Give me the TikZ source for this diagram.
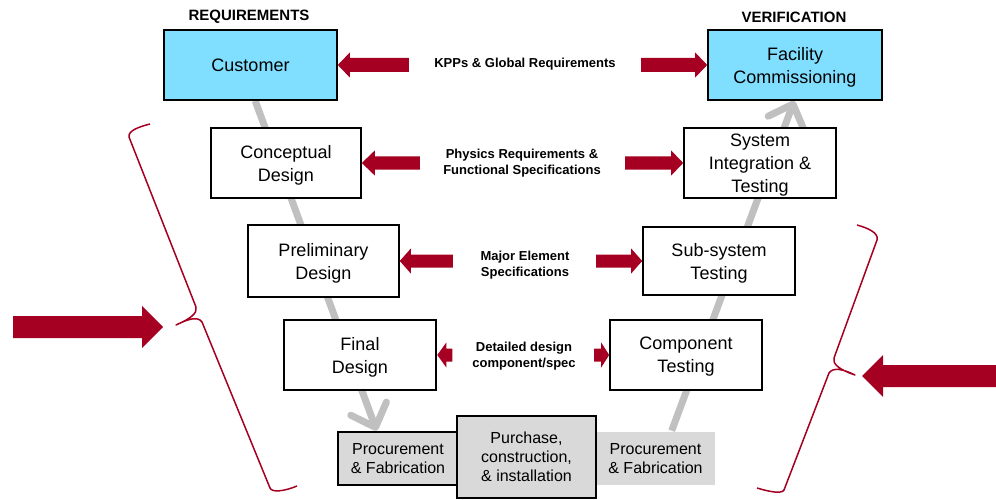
\documentclass[tikz,border=0pt]{standalone}
\usepackage{fontspec}
\setmainfont{Liberation Sans}
\usetikzlibrary{arrows.meta,calc,backgrounds}

\definecolor{skyfill}{RGB}{128,222,255}
\definecolor{arrowred}{RGB}{165,0,33}
\definecolor{vgray}{RGB}{192,192,192}
\definecolor{boxgray}{RGB}{217,217,217}

% horizontal block arrow: #1 tail, #2 tip, #3 shaft half-height, #4 head half-height, #5 head length
\newcommand\harrow[5]{%
  \fill[arrowred] let \p1=(#1), \p2=(#2), \p3=($(#2)!#5!(#1)$) in
    (\x1,\y1+#3) -- (\x3,\y1+#3) -- (\x3,\y1+#4) -- (\x2,\y2)
    -- (\x3,\y1-#4) -- (\x3,\y1-#3) -- (\x1,\y1-#3) -- cycle;}

\tikzset{
  stagebox/.style={draw=black, line width=1.6pt, fill=white, align=center,
    inner sep=0pt, text depth=0pt, font=\fontsize{18}{23}\selectfont},
  topbox/.style={stagebox, fill=skyfill},
  heavybox/.style={stagebox, line width=2.6pt},
  buildbox/.style={draw=black, line width=2.6pt, fill=boxgray, align=center,
    inner sep=0pt, text depth=0pt, font=\fontsize{16}{19}\selectfont},
  plainbuild/.style={buildbox, draw=none},
  flowlabel/.style={align=center, inner sep=0pt, text depth=0pt,
    font=\bfseries\fontsize{13}{16}\selectfont},
  heading/.style={inner sep=0pt, font=\bfseries\fontsize{15}{18}\selectfont},
  vline/.style={draw=vgray, line width=7pt,
    -{Straight Barb[length=20pt,width=38pt,round]}},
  bracket/.style={draw=arrowred, line width=1.5pt, line join=round}
}

\begin{document}
\begin{tikzpicture}[x=1pt,y=-1pt]
\useasboundingbox (0,0) rectangle (996,500);

% headings
\node[heading] (headreq) at (249,17) {REQUIREMENTS};
\node[heading] (headver) at (794,17) {VERIFICATION};

% left leg of the V
\node[topbox, minimum width=173pt, minimum height=70pt] (customer) at (250.5,65) {Customer};
\node[stagebox, minimum width=150pt, minimum height=70pt] (concept) at (286,163) {Conceptual\\Design};
\node[stagebox, minimum width=151pt, minimum height=72pt] (prelim) at (323.5,261) {Preliminary\\Design};
\node[heavybox, minimum width=152pt, minimum height=70pt] (final) at (360,355) {Final\\Design};

% right leg of the V
\node[topbox, minimum width=174pt, minimum height=70pt] (facility) at (795,65) {Facility\\Commissioning};
\node[stagebox, minimum width=152pt, minimum height=70pt] (sysint) at (760,163) {System\\Integration \&\\Testing};
\node[stagebox, minimum width=152pt, minimum height=68pt] (subsys) at (719,261) {Sub-system\\Testing};
\node[stagebox, minimum width=152pt, minimum height=70pt] (component) at (686,355) {Component\\Testing};

% build stages at the bottom
\node[buildbox, minimum width=120pt, minimum height=53pt] (procL) at (398,458.5) {Procurement\\\& Fabrication};
\node[plainbuild, minimum width=119pt, minimum height=53pt] (procR) at (655.5,458.5) {Procurement\\\& Fabrication};
\node[buildbox, minimum width=139pt, minimum height=82pt] (purchase) at (526.5,457) {Purchase,\\construction,\\\& installation};

% gray V path behind the boxes
\begin{scope}[on background layer]
  \draw[vline] ($(customer.south west)+(92,0)$) -- ($(procL.north west)+(40,0)$);
  \draw[vline] ($(procR.north west)+(77,0)$) -- ($(facility.south west)+(87,0)$);
\end{scope}

% flow labels
\node[flowlabel] (lblkpp) at (525,63) {KPPs \& Global Requirements};
\node[flowlabel] (lblphys) at (522,162) {Physics Requirements \&\\Functional Specifications};
\node[flowlabel] (lblmajor) at (525,264) {Major Element\\Specifications};
\node[flowlabel] (lbldetail) at (524,355) {Detailed design\\component/spec};

% tails of the red flow arrows
\coordinate (t1l) at ($(customer.east)+(71,0)$);
\coordinate (t1r) at ($(facility.west)+(-66,0)$);
\coordinate (t2l) at ($(concept.east)+(58,0)$);
\coordinate (t2r) at ($(sysint.west)+(-58,0)$);
\coordinate (t3l) at ($(prelim.east)+(53,0)$);
\coordinate (t3r) at ($(subsys.west)+(-46,0)$);
\coordinate (t4l) at ($(final.east)+(15,0)$);
\coordinate (t4r) at ($(component.west)+(-15,0)$);

\harrow{t1l}{customer.east}{7pt}{12.5pt}{12pt}
\harrow{t1r}{facility.west}{7pt}{12.5pt}{12pt}
\harrow{t2l}{concept.east}{6.5pt}{12.5pt}{13pt}
\harrow{t2r}{sysint.west}{6.5pt}{12.5pt}{12pt}
\harrow{t3l}{prelim.east}{6.5pt}{12.5pt}{11pt}
\harrow{t3r}{subsys.west}{6.5pt}{12.5pt}{11pt}
\harrow{t4l}{final.east}{6.5pt}{12.5pt}{9pt}
\harrow{t4r}{component.west}{6.5pt}{12.5pt}{8pt}

% brackets grouping the design and the test stages
\draw[bracket] (150,124) .. controls (138,127) and (128,131) .. (129,137)
  -- (196,307) .. controls (198,313) and (190,319) .. (176,325)
  .. controls (188,319) and (198,316) .. (202,322)
  -- (270,488) .. controls (272,493) and (285,491) .. (297,486);
\draw[bracket] (857,225) .. controls (868,228) and (879,233) .. (877,240)
  -- (834,358) .. controls (832,364) and (840,370) .. (855,375)
  .. controls (843,369) and (833,367) .. (829,373)
  -- (784,490) .. controls (782,494) and (770,492) .. (757,488);

% big arrows pointing at the brackets
\coordinate (bigtl) at (13,327);
\coordinate (bigpl) at (163,327);
\coordinate (bigtr) at (996,376);
\coordinate (bigpr) at (862,376);
\harrow{bigtl}{bigpl}{11pt}{21pt}{21pt}
\harrow{bigtr}{bigpr}{11pt}{21pt}{21pt}
\end{tikzpicture}
\end{document}
